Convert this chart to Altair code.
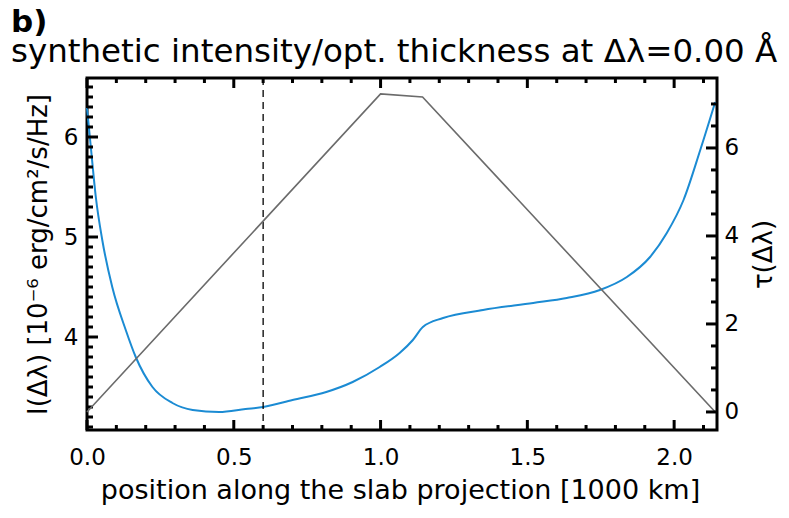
import altair as alt
import pandas as pd

# ---- data ----
x_I = [0.0, 0.013, 0.030, 0.052, 0.086, 0.132, 0.166, 0.223, 0.291, 0.36, 0.45,
       0.54, 0.60, 0.70, 0.815, 0.905, 0.997, 1.065, 1.11, 1.144, 1.213, 1.349,
       1.52, 1.634, 1.747, 1.839, 1.918, 1.975, 2.032, 2.089, 2.14]
I_vals = [6.29, 5.90, 5.40, 4.97, 4.50, 4.07, 3.80, 3.50, 3.34, 3.27, 3.25,
          3.28, 3.30, 3.37, 3.45, 3.55, 3.70, 3.84, 3.97, 4.10, 4.19, 4.27,
          4.34, 4.39, 4.47, 4.60, 4.80, 5.04, 5.37, 5.87, 6.35]
x_tau = [0.0, 1.0, 1.143, 2.14]
tau_vals = [0.0, 7.23, 7.16, 0.0]
dash_x = [0.6]

x_major = [0.0, 0.5, 1.0, 1.5, 2.0]
x_minor = [0.1, 0.2, 0.3, 0.4, 0.6, 0.7, 0.8, 0.9, 1.1, 1.2, 1.3, 1.4,
           1.6, 1.7, 1.8, 1.9, 2.1]
I_major = [4, 5, 6]
I_minor = [3.1, 3.2, 3.3, 3.4, 3.5, 3.6, 3.7, 3.8, 3.9, 4.1, 4.2, 4.3, 4.4,
           4.5, 4.6, 4.7, 4.8, 4.9, 5.1, 5.2, 5.3, 5.4, 5.5, 5.6, 5.7, 5.8,
           5.9, 6.1, 6.2, 6.3, 6.4, 6.5]
tau_major = [0, 2, 4, 6]
tau_minor = [0.5, 1.0, 1.5, 2.5, 3.0, 3.5, 4.5, 5.0, 5.5, 6.5, 7.0]

panel_label = "b)"
title_text = "synthetic intensity/opt. thickness at Δλ=0.00 Å"
x_title = "position along the slab projection [1000 km]"
yl_title = "I(Δλ) [10⁻⁶ erg/cm²/s/Hz]"
yr_title = "τ(Δλ)"

W, H = 630, 352
FONT = "DejaVu Sans"

xs = alt.Scale(domain=[0, 2.146], nice=False, zero=False)
ysI = alt.Scale(domain=[3.07, 6.59], nice=False, zero=False)
ysT = alt.Scale(domain=[-0.41, 7.59], nice=False, zero=False)

x_axis = alt.Axis(values=x_major, format=".1f", title=x_title, ticks=False,
                  domain=False, grid=False, labelPadding=16, labelFlush=False,
                  titlePadding=8, titleX=313)
yI_axis = alt.Axis(orient="left", values=I_major, title=yl_title, ticks=False,
                   domain=False, grid=False, labelPadding=9, labelFlush=False,
                   titlePadding=12)
yT_axis = alt.Axis(orient="right", values=tau_major, title=yr_title, ticks=False,
                   domain=False, grid=False, labelPadding=7, labelFlush=False,
                   titleAngle=270, titleX=46, titleY=H / 2, titleAlign="center",
                   titleBaseline="middle")

dfI = pd.DataFrame({"x": x_I, "v": I_vals})
dfT = pd.DataFrame({"x": x_tau, "v": tau_vals})

blue = alt.Chart(dfI).mark_line(color="#1b8bd3", strokeWidth=2, interpolate="monotone").encode(
    x=alt.X("x:Q", scale=xs, axis=x_axis),
    y=alt.Y("v:Q", scale=ysI, axis=yI_axis),
)

dash = alt.Chart(pd.DataFrame({"x": dash_x})).mark_rule(
    color="black", strokeWidth=1.3, strokeDash=[7, 5]).encode(
    x=alt.X("x:Q", scale=xs, axis=x_axis), y=alt.value(0), y2=alt.value(H))


def xticks(vals, ln):
    d = pd.DataFrame({"x": vals})
    bot = alt.Chart(d).mark_rule(color="black", strokeWidth=3).encode(
        x=alt.X("x:Q", scale=xs, axis=x_axis), y=alt.value(H), y2=alt.value(H - ln))
    top = alt.Chart(d).mark_rule(color="black", strokeWidth=3).encode(
        x=alt.X("x:Q", scale=xs, axis=x_axis), y=alt.value(0), y2=alt.value(ln))
    return [bot, top]


def yticks(vals, ln, scale, axis, right=False):
    d = pd.DataFrame({"v": vals})
    if right:
        xa, xb = alt.value(W), alt.value(W - ln)
    else:
        xa, xb = alt.value(0), alt.value(ln)
    return alt.Chart(d).mark_rule(color="black", strokeWidth=3).encode(
        y=alt.Y("v:Q", scale=scale, axis=axis), x=xa, x2=xb)


lab = alt.Chart(pd.DataFrame({"t": [panel_label]})).mark_text(
    align="left", baseline="alphabetic", font=FONT, fontSize=31, fontWeight="bold",
    color="black").encode(text="t:N", x=alt.value(-76), y=alt.value(-46))
ttl = alt.Chart(pd.DataFrame({"t": [title_text]})).mark_text(
    align="left", baseline="alphabetic", font=FONT, fontSize=32.5,
    color="black").encode(text="t:N", x=alt.value(-76), y=alt.value(-16))

left = alt.layer(blue, dash, *xticks(x_major, 10), *xticks(x_minor, 5),
                 yticks(I_major, 11, ysI, yI_axis), yticks(I_minor, 6, ysI, yI_axis),
                 lab, ttl)

gray = alt.Chart(dfT).mark_line(color="#6b6b6b", strokeWidth=1.6).encode(
    x=alt.X("x:Q", scale=xs, axis=x_axis),
    y=alt.Y("v:Q", scale=ysT, axis=yT_axis),
)
right = alt.layer(gray, yticks(tau_major, 11, ysT, yT_axis, right=True),
                  yticks(tau_minor, 6, ysT, yT_axis, right=True))

chart = alt.layer(left, right).resolve_scale(y="independent").properties(
    width=W, height=H,
    autosize=alt.AutoSizeParams(type="none"),
    padding={"left": 79, "top": 70, "right": 64, "bottom": 80},
).configure_view(stroke="black", strokeWidth=3).configure_axis(
    labelFont=FONT, titleFont=FONT, labelFontSize=23, titleFontSize=26,
    labelColor="black", titleColor="black", titleFontWeight="normal",
).configure_axisBottom(titleFontSize=27)

chart.save("out.html", embed_options={"renderer": "svg", "actions": False})
